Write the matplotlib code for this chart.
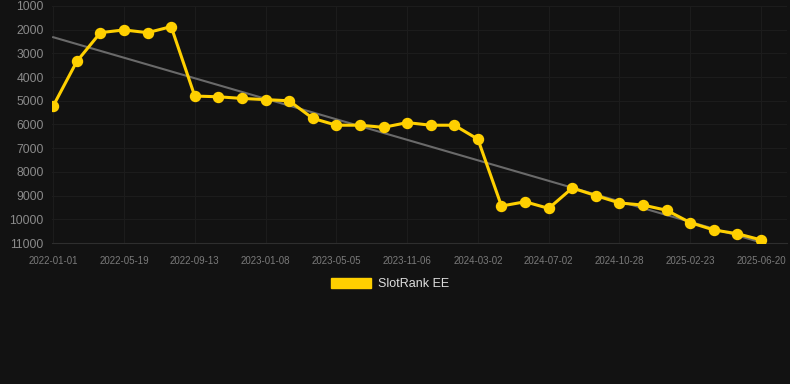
import numpy as np
import matplotlib
matplotlib.use("Agg")
import matplotlib.pyplot as plt
from matplotlib.patches import Patch

# rank values, one per sample (evenly spaced on a category axis)
ranks = [5220, 3340, 2125, 2010, 2125, 1870, 4800, 4830, 4900, 4950,
         5000, 5740, 6030, 6030, 6120, 5920, 6030, 6030, 6620, 9440,
         9260, 9540, 8680, 9000, 9310, 9400, 9620, 10140, 10450, 10610,
         10870]
tick_labels = ["2022-01-01", "2022-05-19", "2022-09-13", "2023-01-08",
               "2023-05-05", "2023-11-06", "2024-03-02", "2024-07-02",
               "2024-10-28", "2025-02-23", "2025-06-20"]
y_ticks = [1000, 2000, 3000, 4000, 5000, 6000, 7000, 8000, 9000, 10000, 11000]
series_name = "SlotRank EE"

bg = "#121212"
yellow = "#FFD000"

x = np.arange(len(ranks))
slope, icpt = np.polyfit(x, ranks, 1)

fig = plt.figure(figsize=(7.9, 3.84), dpi=100, facecolor=bg)
ax = fig.add_axes([52 / 790, 1 - 243 / 384, 735 / 790, 237 / 384])
ax.set_facecolor(bg)

ax.plot(x, slope * x + icpt, color="#6a6a6a", lw=1.5, zorder=2)
ax.plot(x, ranks, color=yellow, lw=2.2, marker="o", ms=7.2, zorder=3)

ax.set_ylim(11000, 1000)
ax.set_xlim(-0.05, 31.1)
ax.set_yticks(y_ticks)
ax.set_yticklabels([str(v) for v in y_ticks], fontsize=8.7, color="#8a8a8a",
                   family="Liberation Sans")
ax.set_xticks(x[::3])
ax.set_xticklabels(tick_labels, fontsize=7, color="#7a7a7a", family="Liberation Sans")
ax.tick_params(length=0)
ax.tick_params(axis="x", pad=9)
ax.tick_params(axis="y", pad=6)
ax.grid(True, color="#1c1c1c", lw=0.8)
ax.set_axisbelow(True)
for s in ["top", "right", "left"]:
    ax.spines[s].set_visible(False)
ax.spines["bottom"].set_color("#2e2e2e")
ax.spines["bottom"].set_linewidth(0.8)

fig.legend(handles=[Patch(color=yellow, label=series_name)], loc="center",
           bbox_to_anchor=(390 / 790, 1 - 284 / 384), frameon=False,
           labelcolor="#dddddd", handlelength=3.2, handleheight=0.9,
           handletextpad=0.6, prop={"family": "Liberation Sans", "size": 9})

fig.savefig("out.png", dpi=100, facecolor=bg)
